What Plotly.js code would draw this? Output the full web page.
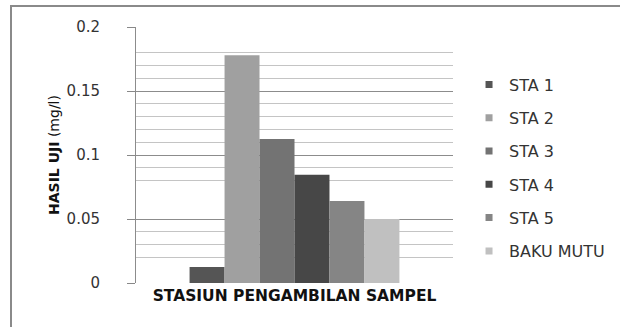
<!DOCTYPE html>
<html><head><meta charset="utf-8">
<script src="https://cdn.plot.ly/plotly-3.0.1.min.js"></script>
<style>body{margin:0;background:#fff}#wrap{position:relative;width:620px;height:327px}#chart{width:620px;height:327px}#frame{position:absolute;left:10px;top:5px;right:0;bottom:0;border-left:2px solid #8a8a8a;border-top:2px solid #8a8a8a;pointer-events:none}</style>
</head><body><div id="wrap"><div id="chart"></div><div id="frame"></div></div>
<script>
const category = ["STASIUN PENGAMBILAN SAMPEL"];
const seriesNames = ["STA 1", "STA 2", "STA 3", "STA 4", "STA 5", "BAKU MUTU"];
const seriesValues = [0.0125, 0.178, 0.1125, 0.0845, 0.064, 0.05];
const seriesColors = ["#555555", "#a0a0a0", "#737373", "#474747", "#858585", "#c0c0c0"];
const yTickVals = [0, 0.05, 0.1, 0.15, 0.2];
const yTickText = ["0", "0.05", "0.1", "0.15", "0.2"];
const minorGridVals = [0.02, 0.03, 0.04, 0.08, 0.09, 0.11, 0.12, 0.13, 0.14, 0.16, 0.17, 0.18];

const traces = seriesNames.map((n, i) => ({
  type: "bar", name: n, x: [0], y: [seriesValues[i]],
  marker: {color: seriesColors[i], line: {width: 0}},
  legendgroup: "g" + i, hoverinfo: "y"
}));

const F = "DejaVu Sans, sans-serif";
const layout = {
  width: 620, height: 327,
  margin: {l: 136, r: 167, t: 27, b: 44},
  paper_bgcolor: "#fff", plot_bgcolor: "#fff",
  barmode: "group", bargap: 0.338, bargroupgap: 0,
  font: {family: F, color: "#222"},
  xaxis: {
    range: [-0.5, 0.5], showticklabels: false, showgrid: false, zeroline: false,
    showline: false, ticks: "",
    title: {text: "<b>" + category[0] + "</b>", font: {family: F, size: 15.5, color: "#111"}, standoff: 7}
  },
  yaxis: {
    range: [0, 0.2], tickmode: "array", tickvals: yTickVals, ticktext: yTickText,
    ticks: "outside", ticklen: 8, tickcolor: "#888", tickwidth: 1,
    ticklabelstandoff: 24,
    tickfont: {family: F, size: 15, color: "#333"},
    showgrid: true, gridcolor: "#8c8c8c", gridwidth: 1,
    showline: true, linecolor: "#8c8c8c", linewidth: 1, zeroline: false,
    minor: {tickmode: "array", tickvals: minorGridVals, showgrid: true, gridcolor: "#c4c4c4", gridwidth: 1, ticks: ""},
    title: {text: "<b>HASIL UJI</b> (mg/l)", font: {family: F, size: 14, color: "#111"}, standoff: 3}
  },
  legend: {
    xref: "container", yref: "container",
    x: 0.7565, xanchor: "left", y: 0.7936, yanchor: "top",
    traceorder: "grouped", tracegroupgap: 9.5, maxheight: 400,
    font: {family: F, size: 16, color: "#333"}, itemwidth: 30, bgcolor: "rgba(0,0,0,0)"
  },
  showlegend: true
};

Plotly.newPlot("chart", traces, layout, {displayModeBar: false, staticPlot: true}).then(() => {
  document.querySelectorAll("#chart .legendpoints path").forEach(p => {
    p.setAttribute("d", "M3.5,3.5H-3.5V-3.5H3.5Z");
  });
});
</script></body></html>
